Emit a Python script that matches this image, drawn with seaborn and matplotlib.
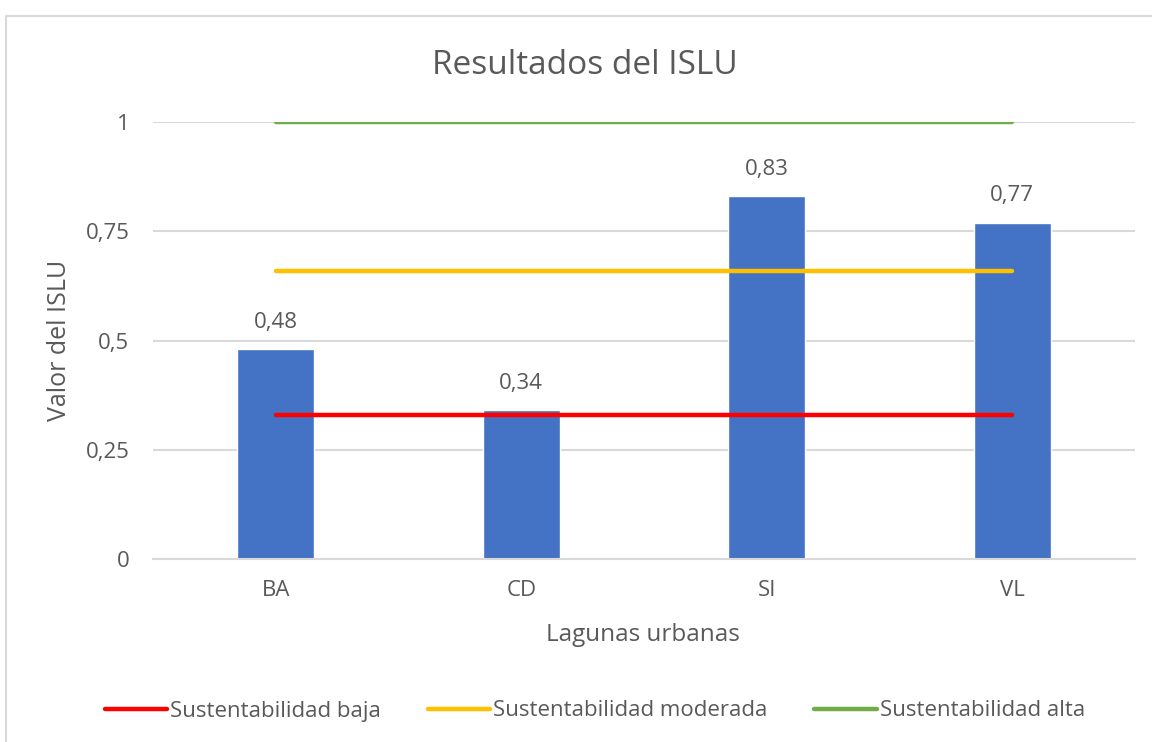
import numpy as np
import pandas as pd
import matplotlib
matplotlib.use("Agg")
import matplotlib.pyplot as plt
from matplotlib.lines import Line2D
import seaborn as sns

# Datos
lagunas = ["BA", "CD", "SI", "VL"]
islu = [0.48, 0.34, 0.83, 0.77]
sust_baja = [0.33, 0.33, 0.33, 0.33]
sust_moderada = [0.66, 0.66, 0.66, 0.66]
sust_alta = [1.0, 1.0, 1.0, 1.0]
y_ticks = [0, 0.25, 0.5, 0.75, 1]
y_labels = ["0", "0,25", "0,5", "0,75", "1"]

sns.set_style("white")
plt.rcParams["font.family"] = ["Open Sans", "DejaVu Sans"]
gris = "#595959"

df = pd.DataFrame({"laguna": lagunas, "islu": islu})

fig = plt.figure(figsize=(11.52, 7.42), dpi=100)
ax = fig.add_axes([0.1328, 0.2466, 0.8524, 0.589])

sns.barplot(data=df, x="laguna", y="islu", color="#4472C4", saturation=1,
            width=0.315, ax=ax, zorder=2)

x = np.arange(len(lagunas))
sns.lineplot(x=x, y=sust_baja, color="#FF0000", linewidth=3.2, ax=ax,
             label="Sustentabilidad baja", zorder=3)
sns.lineplot(x=x, y=sust_moderada, color="#FFC000", linewidth=3.2, ax=ax,
             label="Sustentabilidad moderada", zorder=3)
sns.lineplot(x=x, y=sust_alta, color="#70AD47", linewidth=3.2, ax=ax,
             label="Sustentabilidad alta", zorder=3)
for line in ax.lines:
    line.set_solid_capstyle("round")

# etiquetas de datos
for xi, v in zip(x, islu):
    ax.text(xi, v + 0.062, f"{v:.2f}".replace(".", ","), ha="center",
            va="center", fontsize=16, color=gris)

ax.set_xlim(-0.5, len(lagunas) - 0.5)
ax.set_ylim(0, 1)
ax.set_yticks(y_ticks)
ax.set_yticklabels(y_labels)
ax.yaxis.grid(True, color="#D9D9D9", linewidth=1.5, zorder=0)
ax.set_axisbelow(True)
for s in ["top", "right", "left"]:
    ax.spines[s].set_visible(False)
ax.spines["bottom"].set_color("#D9D9D9")
ax.spines["bottom"].set_linewidth(1.5)
ax.tick_params(axis="both", length=0, labelsize=16, labelcolor=gris)
ax.tick_params(axis="y", pad=17)
ax.tick_params(axis="x", pad=15)

fig.text(585 / 1152, 1 - 65 / 742, "Resultados del ISLU", fontsize=24,
         color=gris, ha="center", va="center")
ax.set_xlabel("Lagunas urbanas", fontsize=17.5, color=gris)
ax.xaxis.label.set_va("center")
ax.xaxis.set_label_coords((643 - 153) / 982, (559 - 635) / 437)
ax.set_ylabel("Valor del ISLU", fontsize=18, color=gris)
ax.yaxis.label.set_va("center")
ax.yaxis.set_label_coords((60 - 153) / 982, (559 - 340) / 437)

leg = ax.legend(loc="center", bbox_to_anchor=(595 / 1152, 1 - 711 / 742),
                bbox_transform=fig.transFigure, ncol=3, frameon=False,
                fontsize=16, handlelength=2.8, handletextpad=0.15,
                columnspacing=2.1)
for t in leg.get_texts():
    t.set_color(gris)

# borde del area del grafico
fig.add_artist(Line2D([0.0052, 1.0], [0.978, 0.978], color="#D9D9D9",
                      linewidth=1.5, transform=fig.transFigure))
fig.add_artist(Line2D([0.0052, 0.0052], [0.0, 0.978], color="#D9D9D9",
                      linewidth=1.5, transform=fig.transFigure))

fig.savefig("out.png", dpi=100)
